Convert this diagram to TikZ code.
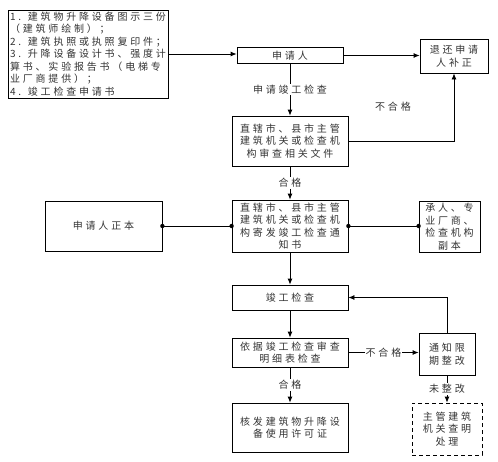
\documentclass[tikz,border=0pt]{standalone}
\usepackage{fontspec}
\setmainfont{Noto Sans CJK SC}[LetterSpace=28]
\usetikzlibrary{arrows.meta, positioning, calc}

\begin{document}
\begin{tikzpicture}[x=1pt, y=-1pt,
    font=\fontsize{10}{12.5}\selectfont, line width=0.8pt,
    box/.style={draw, align=center, inner sep=1pt, text=black!80},
    flow/.style={-{Latex[length=6pt, width=5pt]}},
    tag/.style={fill=white, inner sep=1pt, text=black!80}]
  \useasboundingbox (0,0) rectangle (498,461);
  % ---- left column and top row ----
  \node[box, align=left, minimum width=160, minimum height=88] (docs) at (88,54)
    {1. 建筑物升降设备图示三份\\（建筑师绘制）；\\2. 建筑执照或执照复印件；\\3. 升降设备设计书、强度计\\算书、实验报告书（电梯专\\业厂商提供）；\\4. 竣工检查申请书};
  \node[box, minimum width=106, minimum height=16] (appl) at (290,55.5) {申请人};
  \node[box, minimum width=68, minimum height=34] (ret) at (454,56) {退还申请\\人补正};
  % ---- main column ----
  \node[box, minimum width=116, minimum height=50] (rev) at (290,141)
    {直辖市、县市主管\\建筑机关或检查机\\构审查相关文件};
  \node[box, minimum width=116, minimum height=52] (notice) at (290,226)
    {直辖市、县市主管\\建筑机关或检查机\\构寄发竣工检查通\\知书};
  \node[box, minimum width=117, minimum height=50] (orig) at (103.5,226) {申请人正本};
  \node[box, minimum width=61, minimum height=51] (copy) at (449.5,226.5)
    {承人、专\\业厂商、\\检查机构\\副本};
  \node[box, minimum width=116, minimum height=25] (insp) at (290,297.5) {竣工检查};
  \node[box, minimum width=116, minimum height=29] (check) at (290,352.5)
    {依据竣工检查审查\\明细表检查};
  \node[box, minimum width=56, minimum height=42] (fix) at (447,354) {通知限\\期整改};
  \node[box, dash pattern=on 4pt off 3pt, minimum width=70, minimum height=52] (handle) at (447,429)
    {主管建筑\\机关查明\\处理};
  \node[box, minimum width=116, minimum height=49] (permit) at (290,427.5)
    {核发建筑物升降设\\备使用许可证};
  % ---- connectors ----
  \draw[flow] (docs.east) -- (docs.east -| appl.west);
  \draw[flow] (appl.east) -- (appl.east -| ret.west);
  \draw[flow] (appl.south) -- node[tag] {申请竣工检查} (rev.north);
  \draw[flow] (rev.east) -| (ret.south);
  \node[tag] (fail1) at (393,107) {不合格};
  \draw[flow] (rev.south) -- node[tag] {合格} (notice.north);
  \draw (orig.east) -- (notice.west);
  \draw (notice.east) -- (notice.east -| copy.west) coordinate (cw);
  \foreach \p in {orig.east, notice.west, notice.east, cw}
    \fill (\p) circle (2.2pt);
  \draw[flow] (notice.south) -- (insp.north);
  \draw[flow] (insp.south) -- (check.north);
  \draw[flow] (check.east) -- node[tag] {不合格} (check.east -| fix.west);
  \draw[flow] (fix.north) |- (insp.east);
  \draw[flow] (fix.south) -- node[tag] {未整改} (handle.north);
  \draw[flow] (check.south) -- node[tag] {合格} (permit.north);
\end{tikzpicture}
\end{document}
